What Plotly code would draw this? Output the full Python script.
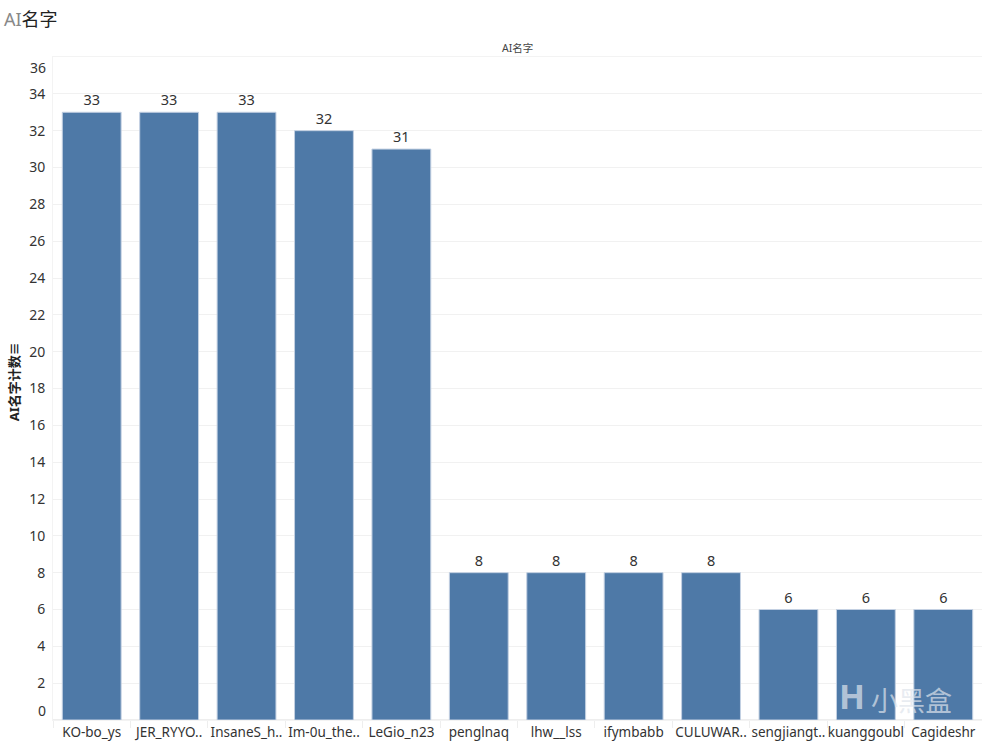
import plotly.graph_objects as go

names = ["KO-bo_ys", "JER_RYYO..", "InsaneS_h..", "Im-0u_the..", "LeGio_n23", "penglnaq",
         "lhw__lss", "ifymbabb", "CULUWAR..", "sengjiangt..", "kuanggoubl", "Cagideshr"]
counts = [33, 33, 33, 32, 31, 8, 8, 8, 8, 6, 6, 6]
y_ticks = list(range(0, 38, 2))
y_labels = ["" if v in (y_ticks[0], y_ticks[-1]) else str(v) for v in y_ticks]
FONT = "Noto Sans, Noto Sans CJK SC, sans-serif"
WM = "rgba(222,228,236,0.7)"

fig = go.Figure(go.Bar(
    x=names, y=counts, text=counts, textposition="outside", cliponaxis=False,
    textfont=dict(size=14.5, color="#333333", family=FONT),
    marker=dict(color="#4e79a7", line=dict(color="#c3d0e2", width=1)),
))
fig.update_layout(
    width=982, height=742, autosize=False, plot_bgcolor="white", paper_bgcolor="white",
    margin=dict(l=53, r=0, t=57, b=22), bargap=0.24, showlegend=False,
    font=dict(family=FONT, color="#333333"),
    xaxis=dict(type="category", tickson="boundaries", ticks="outside", ticklen=7, tickcolor="#eeeeee",
               tickangle=0, automargin=False,
               tickfont=dict(size=13.5, color="#333333"), showgrid=False, showline=True, mirror=True,
               linecolor="#f3f3f3", zeroline=False, fixedrange=True),
    yaxis=dict(range=[0, 36], tickmode="array", tickvals=y_ticks, automargin=True,
               ticktext=y_labels, ticks="outside", ticklen=4, tickcolor="rgba(0,0,0,0)",
               tickfont=dict(size=14, color="#333333"), gridcolor="#f1f1f1", gridwidth=1, showline=True,
               linecolor="#f3f3f3", zeroline=True, zerolinecolor="#eeeeee",
               title=dict(text="<b>\u00a0\u00a0\u00a0\u00a0AI名字计数≡</b>", font=dict(size=13, color="#222222"),
                          standoff=6)),
    annotations=[
        dict(text="<span style='color:#888888'>AI</span>名字", xref="paper", yref="paper", x=0, y=1.0,
             xanchor="left", yanchor="bottom", xshift=-51, yshift=24, showarrow=False,
             font=dict(size=18, color="#222222")),
        dict(text="AI名字", xref="paper", yref="paper", x=0.5, y=1.0, xanchor="center", yanchor="bottom",
             yshift=0, showarrow=False, font=dict(size=10.5, color="#444444")),
        dict(text=str(y_ticks[-1]), xref="paper", yref="y", x=0, y=y_ticks[-1], xanchor="right", yanchor="middle",
             xshift=-5, yshift=-10, showarrow=False, font=dict(size=14, color="#333333")),
        dict(text=str(y_ticks[0]), xref="paper", yref="y", x=0, y=y_ticks[0], xanchor="right", yanchor="middle",
             xshift=-5, yshift=10, showarrow=False, font=dict(size=14, color="#333333")),
        dict(text="小黑盒", xref="paper", yref="paper", x=0.97, y=0.0, xanchor="right", yanchor="bottom",
             yshift=-1, showarrow=False, font=dict(size=27, color=WM)),
        dict(text="<b>H</b>", xref="paper", yref="paper", x=0.86, y=0.0, xanchor="center", yanchor="bottom",
             yshift=-1, showarrow=False, font=dict(size=34, color=WM)),
    ],
)
fig.write_html("out.html", post_script="document.body.style.margin='0';",
               config={"displayModeBar": False})
